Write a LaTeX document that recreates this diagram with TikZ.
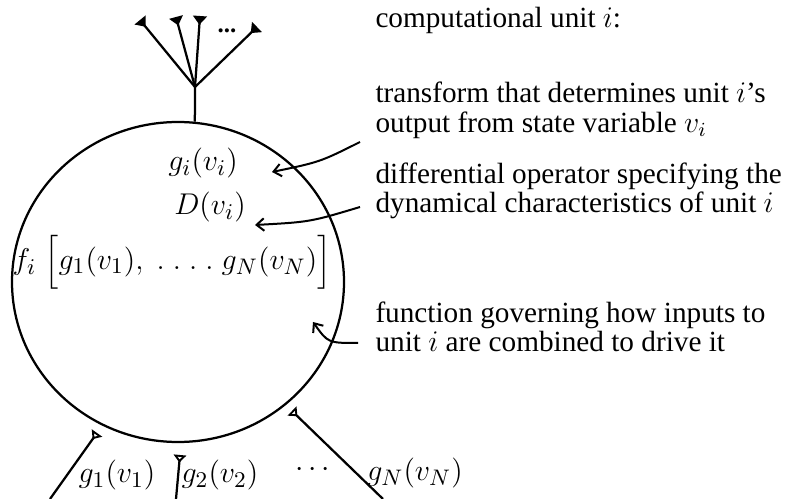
\documentclass[tikz,border=0pt]{standalone}
\usepackage{amsmath}
\usepackage{fontspec}
\setmainfont{Liberation Serif}
\usetikzlibrary{arrows.meta,shapes.geometric}

\begin{document}
\begin{tikzpicture}[x=0.4pt, y=-0.4pt,
  unit/.style={ellipse, draw, line width=0.9pt, minimum width=132.8pt,
               minimum height=128pt, inner sep=0pt},
  note/.style={anchor=west, align=left, inner sep=0pt,
               font=\fontsize{11.7}{11.4}\selectfont},
  term/.style={font=\fontsize{13}{15}\selectfont, inner sep=1pt},
  arrow/.style={-{Straight Barb[length=3pt,width=5pt]}, line width=0.8pt},
  outsyn/.style={-{Triangle[reversed, length=3.5pt, width=5.5pt]}, line width=0.9pt},
  insyn/.style={-{Triangle[reversed, open, length=3pt, width=5pt]}, line width=0.9pt}
]
\useasboundingbox (0,0) rectangle (788,499);

% the unit
\node[unit] (cell) at (178,282) {};
\node[term] (gi) at (203,163) {$g_i(v_i)$};
\node[term] (Dv) at (210,207) {$D(v_i)$};
\node[term] (fi) at (172,262) {$f_i\;\Bigl[g_1(v_1),\ .\ .\ .\ .\ g_N(v_N)\Bigr]$};

% output tree
\coordinate (hub) at (195,87);
\coordinate (o1) at (140,20);
\coordinate (o2) at (176,17);
\coordinate (o3) at (200,16);
\coordinate (o4) at (257,27);
\draw[line width=0.9pt] (cell.84) -- (hub);
\foreach \o in {o1,o2,o3,o4}
  \draw[outsyn] (hub) -- (\o);
\node[font=\bfseries] (odots) at (227,31) {...};

% inputs
\coordinate (a1) at (50,499);  \coordinate (t1) at (97,433);
\coordinate (a2) at (176,499); \coordinate (t2) at (180,455);
\coordinate (a3) at (383,499); \coordinate (t3) at (292,411);
\draw[insyn] (a1) -- (t1);
\draw[insyn] (a2) -- (t2);
\draw[insyn] (a3) -- (t3);
\node[term] (in1) at (117,475) {$g_1(v_1)$};
\node[term] (in2) at (220,475) {$g_2(v_2)$};
\node[term] (indots) at (315,470) {$\cdots$};
\node[term] (inN) at (415,473) {$g_N(v_N)$};

% annotations
\node[note] (title) at (375,20) {computational unit $i$:};
\node[note] (trans) at (375,110) {transform that determines unit $i$'s\\[0.6pt]output from state variable $v_i$};
\node[note] (diff) at (375,191) {differential operator specifying the\\dynamical characteristics of unit $i$};
\node[note] (func) at (375,327) {function governing how inputs to\\unit $i$ are combined to drive it};

\coordinate (s1) at (360,142); \coordinate (e1) at (272,172);
\coordinate (s2) at (360,207); \coordinate (e2) at (255,225);
\coordinate (s3) at (358,343); \coordinate (e3) at (313,322);
\draw[arrow] (s1) .. controls (320,162) .. (e1);
\draw[arrow] (s2) .. controls (310,222) .. (e2);
\draw[arrow] (s3) .. controls (328,343) .. (e3);

\end{tikzpicture}
\end{document}
